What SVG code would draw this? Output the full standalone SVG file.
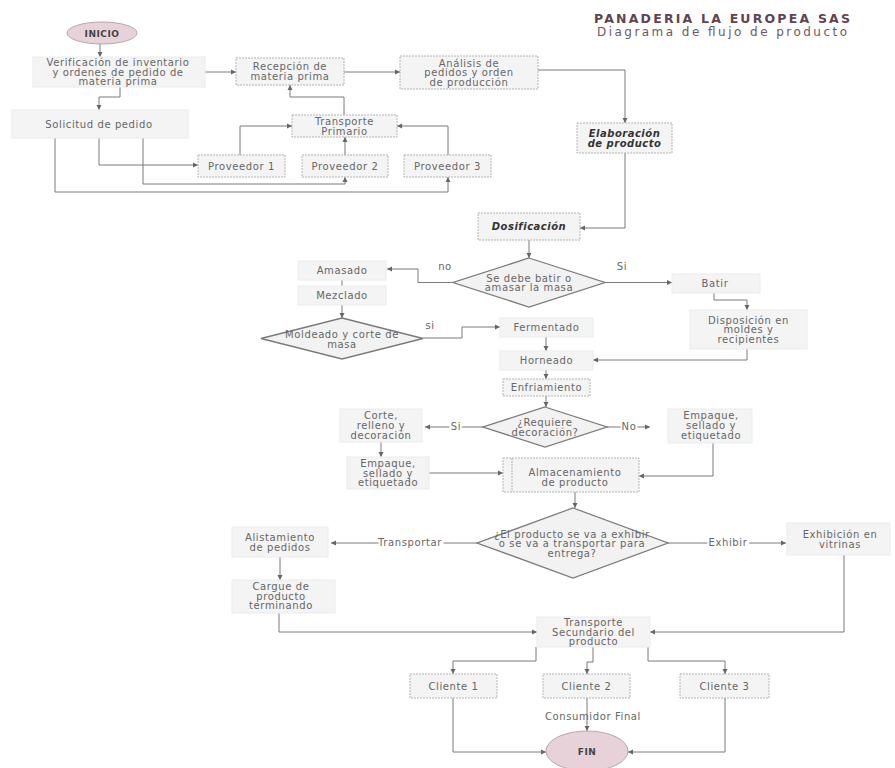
<svg xmlns="http://www.w3.org/2000/svg" width="895" height="768" viewBox="0 0 895 768">
<defs>
<marker id="ah" markerWidth="6" markerHeight="6" refX="5" refY="3" orient="auto" markerUnits="userSpaceOnUse">
<path d="M0,0.5 L5,3 L0,5.5 z" fill="#666"/>
</marker>
<style>
.bx{fill:#f4f4f4;stroke:#ececec;stroke-width:1}
.bd{fill:#f4f4f4;stroke:#b4b4b4;stroke-width:1;stroke-dasharray:2 1}
.dm{fill:#f2f2f2;stroke:#7a7a7a;stroke-width:1.3}
.el{fill:#e8d2da;stroke:#b8a8ae;stroke-width:1}
.t{font-family:"DejaVu Sans",sans-serif;font-size:10px;fill:#666;text-anchor:middle;letter-spacing:0.6px}
.tb{font-family:"DejaVu Sans",sans-serif;font-size:10px;fill:#333;text-anchor:middle;font-weight:bold;font-style:italic;letter-spacing:0.5px}
.te{font-family:"DejaVu Sans",sans-serif;font-size:9px;fill:#444;text-anchor:middle;font-weight:bold;letter-spacing:0.5px}
.lb{font-family:"DejaVu Sans",sans-serif;font-size:10px;fill:#666;text-anchor:middle;letter-spacing:0.6px;paint-order:stroke;stroke:#fff;stroke-width:4px}
.c{fill:none;stroke:#7a7a7a;stroke-width:1}
.ca{fill:none;stroke:#7a7a7a;stroke-width:1;marker-end:url(#ah)}
</style>
</defs>
<rect width="895" height="768" fill="#fff"/>

<g id="title">
<text x="722" y="23" font-family="'DejaVu Sans',sans-serif" font-size="12.5px" font-weight="bold" fill="#5e4550" text-anchor="middle" textLength="256" lengthAdjust="spacing">PANADERIA LA EUROPEA SAS</text>
<text x="722" y="35.5" font-family="'DejaVu Sans',sans-serif" font-size="12px" fill="#6e5862" text-anchor="middle" textLength="250" lengthAdjust="spacing">Diagrama de flujo de producto</text>
</g>

<g id="connectors">
<path class="ca" d="M100,44 V57"/>
<path class="ca" d="M205,72 H236"/>
<path class="ca" d="M120,87 V97 H99 V110"/>
<path class="ca" d="M99,138 V165 H198"/>
<path class="ca" d="M143,138 V184 H345 V177"/>
<path class="ca" d="M55,138 V192 H448 V177"/>
<path class="ca" d="M240,155 V126 H292"/>
<path class="ca" d="M345,155 V137"/>
<path class="ca" d="M448,155 V126 H397"/>
<path class="ca" d="M344,115 V97 H290 V85"/>
<path class="ca" d="M344,72 H400"/>
<path class="ca" d="M538,70 H625 V123"/>
<path class="ca" d="M625,153 V228 H580"/>
<path class="ca" d="M529,240 V258"/>
<path class="ca" d="M453,282.5 H418 V269 H387"/>
<path class="c" d="M342,280 V286"/>
<path class="ca" d="M342,305 V318"/>
<path class="ca" d="M423,338 H462 V327 H500"/>
<path class="ca" d="M546,337 V351"/>
<path class="ca" d="M605,282.5 H672"/>
<path class="ca" d="M714,293 V300 H747 V310"/>
<path class="ca" d="M747,349 V360 H593"/>
<path class="ca" d="M546,370 V379"/>
<path class="ca" d="M546,396 V407"/>
<path class="ca" d="M483,427 H425"/>
<path class="ca" d="M381,442 V457"/>
<path class="ca" d="M429,473 H503"/>
<path class="ca" d="M607,427 H650"/>
<path class="ca" d="M713,443 V476 H639"/>
<path class="ca" d="M575,492 V508"/>
<path class="ca" d="M477,543 H331"/>
<path class="ca" d="M280,557 V580"/>
<path class="ca" d="M279,613 V632 H537"/>
<path class="ca" d="M668,543 H786"/>
<path class="ca" d="M844,555 V632 H650"/>
<path class="ca" d="M536,647 V661 H453 V674"/>
<path class="ca" d="M593,647 V662 H587 V674"/>
<path class="ca" d="M648,647 V661 H725 V674"/>
<path class="ca" d="M453,698 V752 H546"/>
<path class="ca" d="M587,698 V731"/>
<path class="ca" d="M725,698 V752 H628"/>
<text class="lb" x="445" y="270">no</text>
<text class="lb" x="622" y="270">Si</text>
<text class="lb" x="430" y="329">si</text>
<text class="lb" x="456" y="430">Si</text>
<text class="lb" x="629" y="430">No</text>
<text class="lb" x="410" y="546">Transportar</text>
<text class="lb" x="728" y="546">Exhibir</text>
<text class="t" x="593" y="720">Consumidor Final</text>
</g>

<g id="inicio"><ellipse class="el" cx="102" cy="33" rx="35" ry="11"/><text class="te" x="102" y="36.5">INICIO</text></g>

<g id="verificacion"><rect class="bx" x="33" y="57" width="172" height="30"/>
<text class="t" x="118" y="66">Verificación de inventario<tspan x="118" dy="9.5">y ordenes de pedido de</tspan><tspan x="118" dy="9.5">materia prima</tspan></text></g>

<g id="solicitud"><rect class="bx" x="12" y="110" width="176" height="28"/>
<text class="t" x="99" y="127.5">Solicitud de pedido</text></g>

<g id="recepcion"><rect class="bd" x="236" y="58" width="108" height="27"/>
<text class="t" x="290" y="70">Recepción de<tspan x="290" dy="10">materia prima</tspan></text></g>

<g id="analisis"><rect class="bd" x="400" y="56" width="138" height="33"/>
<text class="t" x="469" y="66.5">Análisis de<tspan x="469" dy="9.5">pedidos y orden</tspan><tspan x="469" dy="9.5">de producción</tspan></text></g>

<g id="transporte-primario"><rect class="bd" x="292" y="115" width="105" height="22"/>
<text class="t" x="344.5" y="124.5">Transporte<tspan x="344.5" dy="10">Primario</tspan></text></g>

<g id="proveedor1"><rect class="bd" x="198" y="155" width="87" height="22"/><text class="t" x="241.5" y="169.5">Proveedor 1</text></g>
<g id="proveedor2"><rect class="bd" x="302" y="155" width="86" height="22"/><text class="t" x="345" y="169.5">Proveedor 2</text></g>
<g id="proveedor3"><rect class="bd" x="404" y="155" width="87" height="22"/><text class="t" x="447.5" y="169.5">Proveedor 3</text></g>

<g id="elaboracion"><rect class="bd" x="577" y="123" width="95" height="30"/>
<text class="tb" x="624.5" y="136.5">Elaboración<tspan x="624.5" dy="10">de producto</tspan></text></g>

<g id="dosificacion"><rect class="bd" x="478" y="213" width="102" height="27"/>
<text class="tb" x="529" y="230">Dosificación</text></g>

<g id="batir-amasar"><polygon class="dm" points="529,258 605,282.5 529,307 453,282.5"/>
<text class="t" x="529" y="281.5">Se debe batir o<tspan x="529" dy="9.5">amasar la masa</tspan></text></g>

<g id="amasado"><rect class="bx" x="298" y="261" width="88" height="19"/><text class="t" x="342" y="274">Amasado</text></g>
<g id="mezclado"><rect class="bx" x="298" y="286" width="88" height="19"/><text class="t" x="342" y="299">Mezclado</text></g>

<g id="moldeado"><polygon class="dm" points="342,318 423,338.5 342,359 261,338.5"/>
<text class="t" x="342" y="337.5">Moldeado y corte de<tspan x="342" dy="10">masa</tspan></text></g>

<g id="fermentado"><rect class="bx" x="500" y="318" width="93" height="19"/><text class="t" x="546.5" y="331">Fermentado</text></g>
<g id="horneado"><rect class="bx" x="500" y="351" width="93" height="19"/><text class="t" x="546.5" y="364">Horneado</text></g>
<g id="batir"><rect class="bx" x="672" y="274" width="88" height="19"/><text class="t" x="715" y="287">Batir</text></g>

<g id="disposicion"><rect class="bx" x="690" y="310" width="117" height="39"/>
<text class="t" x="748.5" y="323.5">Disposición en<tspan x="748.5" dy="9.5">moldes y</tspan><tspan x="748.5" dy="9.5">recipientes</tspan></text></g>

<g id="enfriamiento"><rect class="bd" x="503" y="379" width="87" height="17"/><text class="t" x="546.5" y="391">Enfriamiento</text></g>

<g id="requiere-decoracion"><polygon class="dm" points="545,407 607,427 545,447 483,427"/>
<text class="t" x="545" y="425.5">¿Requiere<tspan x="545" dy="10">decoración?</tspan></text></g>

<g id="corte"><rect class="bx" x="340" y="409" width="82" height="33"/>
<text class="t" x="381" y="419">Corte,<tspan x="381" dy="10">relleno y</tspan><tspan x="381" dy="10">decoración</tspan></text></g>

<g id="empaque-izq"><rect class="bx" x="347" y="457" width="82" height="32"/>
<text class="t" x="388" y="467">Empaque,<tspan x="388" dy="9.5">sellado y</tspan><tspan x="388" dy="9.5">etiquetado</tspan></text></g>

<g id="empaque-der"><rect class="bx" x="668" y="409" width="84" height="34"/>
<text class="t" x="711" y="419">Empaque,<tspan x="711" dy="10">sellado y</tspan><tspan x="711" dy="10">etiquetado</tspan></text></g>

<g id="almacenamiento"><rect class="bd" x="503" y="458" width="136" height="34"/>
<line x1="512" y1="458" x2="512" y2="492" stroke="#b4b4b4" stroke-width="1" stroke-dasharray="2 1"/>
<text class="t" x="575" y="475.5">Almacenamiento<tspan x="575" dy="10">de producto</tspan></text></g>

<g id="exhibir-transportar"><polygon class="dm" points="573,508 668,543 573,578 477,543"/>
<text class="t" x="572" y="537.5" letter-spacing="0.3">¿El producto se va a exhibir<tspan x="572" dy="9.5">o se va a transportar para</tspan><tspan x="572" dy="9.5">entrega?</tspan></text></g>

<g id="alistamiento"><rect class="bx" x="232" y="527" width="96" height="30"/>
<text class="t" x="280" y="541">Alistamiento<tspan x="280" dy="9.5">de pedidos</tspan></text></g>

<g id="cargue"><rect class="bx" x="232" y="580" width="103" height="33"/>
<text class="t" x="281" y="590">Cargue de<tspan x="281" dy="9.5">producto</tspan><tspan x="281" dy="9.5">terminando</tspan></text></g>

<g id="exhibicion"><rect class="bx" x="787" y="523" width="103" height="32"/>
<text class="t" x="840" y="537.5">Exhibición en<tspan x="840" dy="10">vitrinas</tspan></text></g>

<g id="transporte-secundario"><rect class="bx" x="537" y="617" width="113" height="30"/>
<text class="t" x="593.5" y="626">Transporte<tspan x="593.5" dy="9.5">Secundario del</tspan><tspan x="593.5" dy="9.5">producto</tspan></text></g>

<g id="cliente1"><rect class="bd" x="410" y="674" width="87" height="24"/><text class="t" x="453.5" y="689.5">Cliente 1</text></g>
<g id="cliente2"><rect class="bd" x="543" y="674" width="87" height="24"/><text class="t" x="586.5" y="689.5">Cliente 2</text></g>
<g id="cliente3"><rect class="bd" x="680" y="674" width="89" height="24"/><text class="t" x="724.5" y="689.5">Cliente 3</text></g>

<g id="fin"><ellipse class="el" cx="587" cy="751" rx="41" ry="20"/><text class="te" x="587" y="754.5">FIN</text></g>
</svg>
